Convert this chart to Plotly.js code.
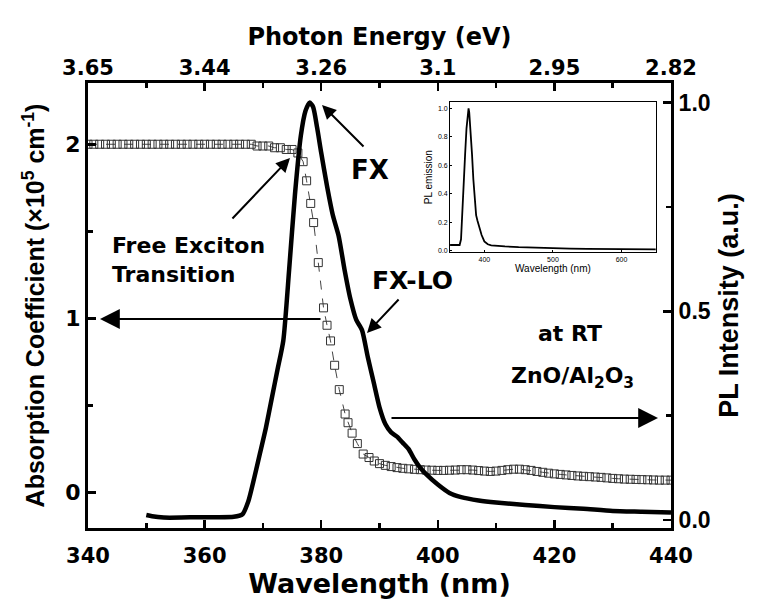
<!DOCTYPE html>
<html>
<head>
<meta charset="utf-8">
<script src="https://cdn.plot.ly/plotly-3.0.1.min.js"></script>
<style>html,body{margin:0;padding:0;background:#fff;}#chart{width:757px;height:604px;}</style>
</head>
<body>
<div id="chart"></div>
<script>
// PL intensity (thick black line, right axis)
const plWavelength = [350, 351, 353, 356, 359, 362, 365, 366.5, 367.5, 368.5, 369.5, 370.5, 371.5, 372.5, 373.5, 374.5, 375.5, 376.5, 377.3, 378, 378.6, 379.3, 380, 381, 382, 383, 384, 385, 386, 387, 388, 389, 390, 391, 392, 393, 394, 395, 396, 397, 398, 400, 402, 404, 407, 410, 415, 420, 425, 430, 435, 440];
const plIntensity = [0.012, 0.009, 0.006, 0.006, 0.007, 0.007, 0.008, 0.014, 0.045, 0.10, 0.16, 0.22, 0.29, 0.36, 0.43, 0.60, 0.78, 0.92, 0.98, 1.0, 0.99, 0.94, 0.88, 0.80, 0.73, 0.68, 0.60, 0.53, 0.48, 0.455, 0.39, 0.33, 0.27, 0.23, 0.21, 0.20, 0.185, 0.17, 0.145, 0.125, 0.11, 0.085, 0.065, 0.055, 0.047, 0.042, 0.036, 0.031, 0.027, 0.022, 0.020, 0.018];

// Absorption coefficient (open squares, left axis, x10^5 cm^-1)
const absWavelength = [340, 341, 342, 343, 344, 345, 346, 347, 348, 349, 350, 351, 352, 353, 354, 355, 356, 357, 358, 359, 360, 361, 362, 363, 364, 365, 366, 367, 368, 369, 370, 371, 372, 373, 374, 375, 376, 376.9, 377.5, 378.2, 378.7, 379.5, 380.4, 381, 381.6, 382.3, 383.1, 384.1, 384.6, 385.3, 386.2, 387.2, 388.2, 389.1, 390, 391, 392, 393, 394, 395, 396, 397, 398, 399, 400, 401, 402, 403, 404, 405, 406, 407, 408, 409, 410, 411, 412, 413, 414, 415, 416, 417, 418, 419, 420, 421, 422, 423, 424, 425, 426, 427, 428, 429, 430, 431, 432, 433, 434, 435, 436, 437, 438, 439, 440];
const absCoefficient = [2.00, 2.00, 2.00, 2.00, 2.00, 2.00, 2.00, 2.00, 2.00, 2.00, 2.00, 2.00, 2.00, 2.00, 2.00, 2.00, 2.00, 2.00, 2.00, 2.00, 2.00, 2.00, 2.00, 2.00, 2.00, 2.00, 2.00, 2.00, 2.00, 1.99, 1.99, 1.99, 1.98, 1.98, 1.97, 1.97, 1.95, 1.90, 1.79, 1.66, 1.55, 1.32, 1.06, 0.96, 0.87, 0.73, 0.59, 0.45, 0.40, 0.34, 0.28, 0.22, 0.20, 0.18, 0.165, 0.155, 0.148, 0.142, 0.138, 0.135, 0.132, 0.130, 0.128, 0.127, 0.126, 0.126, 0.127, 0.128, 0.130, 0.130, 0.128, 0.125, 0.122, 0.120, 0.122, 0.126, 0.130, 0.133, 0.133, 0.130, 0.126, 0.120, 0.115, 0.110, 0.106, 0.103, 0.100, 0.097, 0.094, 0.092, 0.090, 0.088, 0.086, 0.083, 0.080, 0.078, 0.076, 0.075, 0.074, 0.073, 0.072, 0.071, 0.070, 0.070, 0.070];

// Inset: PL emission over a wide range
const insetWavelength = [350, 355, 360, 364, 366, 368, 370, 372, 374, 376, 377, 378, 380, 382, 384, 386, 388, 390, 393, 396, 400, 405, 410, 420, 430, 450, 475, 500, 525, 550, 575, 600, 625, 650];
const insetEmission = [0.04, 0.04, 0.038, 0.04, 0.08, 0.25, 0.47, 0.68, 0.86, 0.97, 1.0, 0.97, 0.85, 0.68, 0.50, 0.34, 0.25, 0.21, 0.16, 0.11, 0.065, 0.045, 0.038, 0.033, 0.030, 0.025, 0.020, 0.016, 0.014, 0.012, 0.011, 0.010, 0.009, 0.009];

// Axis tick labels
const wlTicks = [340, 360, 380, 400, 420, 440];
const energyLabels = ["3.65", "3.44", "3.26", "3.1", "2.95", "2.82"];
const insetXTicks = [400, 500, 600];
const insetYTicks = [0, 0.2, 0.4, 0.6, 0.8, 1.0];

const wide = {family: "DejaVu Sans", weight: "bold", color: "#000"};
const arial = {family: "Liberation Sans, Arial", weight: "bold", color: "#000"};
function f(base, size) { return Object.assign({}, base, {size: size}); }

const traces = [
  {
    x: absWavelength, y: absCoefficient, xaxis: "x", yaxis: "y",
    type: "scatter", mode: "lines+markers",
    line: {color: "#444", width: 1, dash: "dash"},
    marker: {symbol: "square-open", size: 8, color: "#333", line: {width: 1}},
    name: "Absorption"
  },
  {
    x: plWavelength, y: plIntensity, xaxis: "x2", yaxis: "y2",
    type: "scatter", mode: "lines",
    line: {color: "#000", width: 4.5, shape: "spline", smoothing: 0.6},
    name: "PL"
  },
  {
    x: insetWavelength, y: insetEmission, xaxis: "x3", yaxis: "y3",
    type: "scatter", mode: "lines",
    line: {color: "#000", width: 1.8},
    name: "Inset"
  }
];

const axCommon = {showline: true, linecolor: "#000", linewidth: 3, ticks: "inside", tickcolor: "#000", tickwidth: 2.5, ticklen: 8, showgrid: false, zeroline: false, fixedrange: true};

const layout = {
  width: 757, height: 604,
  margin: {l: 88, r: 86, t: 83, b: 76, pad: 0},
  paper_bgcolor: "#fff", plot_bgcolor: "#fff",
  showlegend: false,
  xaxis: Object.assign({}, axCommon, {
    range: [340, 440], side: "bottom", anchor: "y",
    tickmode: "array", tickvals: wlTicks,
    minor: {dtick: 10, tick0: 340, ticks: "inside", ticklen: 5, tickwidth: 2.5, tickcolor: "#000"},
    tickfont: f(wide, 21), ticklabelstandoff: 7,
    title: {text: "Wavelength (nm)", font: f(wide, 27), standoff: 3}
  }),
  xaxis2: Object.assign({}, axCommon, {
    range: [340, 440], side: "top", overlaying: "x", anchor: "y2",
    tickmode: "array", tickvals: wlTicks, ticktext: energyLabels,
    minor: {dtick: 10, tick0: 340, ticks: "inside", ticklen: 5, tickwidth: 2.5, tickcolor: "#000"},
    tickfont: f(wide, 21), ticklabelstandoff: -3,
    title: {text: "Photon Energy (eV)", font: f(wide, 24), standoff: 4}
  }),
  yaxis: Object.assign({}, axCommon, {
    range: [-0.205, 2.352], side: "left", anchor: "x",
    tickmode: "array", tickvals: [0, 1, 2],
    minor: {dtick: 0.5, tick0: 0, ticks: "inside", ticklen: 5, tickwidth: 2.5, tickcolor: "#000"},
    tickfont: f(wide, 22),
    title: {text: "Absorption Coefficient (×10<sup>5</sup> cm<sup>-1</sup>)", font: f(arial, 25), standoff: 14}
  }),
  yaxis2: Object.assign({}, axCommon, {
    range: [-0.019, 1.047], side: "right", overlaying: "y", anchor: "x2",
    tickmode: "array", tickvals: [0, 0.5, 1.0], ticktext: ["0.0", "0.5", "1.0"],
    minor: {dtick: 0.25, tick0: 0, ticks: "inside", ticklen: 5, tickwidth: 2.5, tickcolor: "#000"},
    tickfont: f(arial, 23),
    title: {text: "PL Intensity (a.u.)", font: f(arial, 27), standoff: 10}
  }),
  xaxis3: {
    domain: [0.621, 0.974], anchor: "y3", range: [350, 650],
    showline: true, mirror: true, linecolor: "#000", linewidth: 1,
    ticks: "inside", ticklen: 2, tickwidth: 1, tickcolor: "#000",
    tickmode: "array", tickvals: insetXTicks,
    tickfont: {family: "Liberation Sans, Arial", size: 7, color: "#000"},
    showgrid: false, zeroline: false, fixedrange: true,
    title: {text: "Wavelength (nm)", font: {family: "Liberation Sans, Arial", size: 10, color: "#000"}, standoff: 3}
  },
  yaxis3: {
    domain: [0.620, 0.957], anchor: "x3", range: [-0.01, 1.044],
    showline: true, mirror: true, linecolor: "#000", linewidth: 1,
    ticks: "inside", ticklen: 2, tickwidth: 1, tickcolor: "#000",
    tickmode: "array", tickvals: insetYTicks, tickformat: ".1f",
    tickfont: {family: "Liberation Sans, Arial", size: 7, color: "#000"},
    showgrid: false, zeroline: false, fixedrange: true,
    title: {text: "PL emission", font: {family: "Liberation Sans, Arial", size: 10, color: "#000"}, standoff: 3}
  },
  annotations: [
    // arrows
    {xref: "paper", yref: "paper", x: 0.4014, y: 0.9506, ax: 43, ay: 43, showarrow: true, arrowhead: 2, arrowsize: 1.4, arrowwidth: 2, arrowcolor: "#000", text: ""},
    {xref: "paper", yref: "paper", x: 0.3465, y: 0.8315, ax: -59, ay: 62, showarrow: true, arrowhead: 2, arrowsize: 1.4, arrowwidth: 2, arrowcolor: "#000", text: ""},
    {xref: "paper", yref: "paper", x: 0.4786, y: 0.4382, ax: 33, ay: -35, showarrow: true, arrowhead: 2, arrowsize: 1.4, arrowwidth: 2, arrowcolor: "#000", text: ""},
    {xref: "paper", yref: "paper", x: 0.0206, y: 0.4697, ax: 222, ay: 0, showarrow: true, arrowhead: 2, arrowsize: 1.8, arrowwidth: 2.2, arrowcolor: "#000", text: ""},
    {xref: "paper", yref: "paper", x: 0.9777, y: 0.2472, ax: -268, ay: 0, showarrow: true, arrowhead: 2, arrowsize: 1.8, arrowwidth: 2.2, arrowcolor: "#000", text: ""},
    // labels
    {xref: "paper", yref: "paper", x: 0.4837, y: 0.8045, xanchor: "center", yanchor: "middle", text: "FX", showarrow: false, font: f(wide, 26)},
    {xref: "paper", yref: "paper", x: 0.0377, y: 0.6022, xanchor: "left", yanchor: "middle", align: "left", text: "Free Exciton<br>Transition", showarrow: false, font: f(wide, 22)},
    {xref: "paper", yref: "paper", x: 0.5574, y: 0.5573, xanchor: "center", yanchor: "middle", text: "FX-LO", showarrow: false, font: f(wide, 25)},
    {xref: "paper", yref: "paper", x: 0.8267, y: 0.4382, xanchor: "center", yanchor: "middle", text: "at RT", showarrow: false, font: f(wide, 22)},
    {xref: "paper", yref: "paper", x: 0.8302, y: 0.3393, xanchor: "center", yanchor: "middle", text: "ZnO/Al<sub>2</sub>O<sub>3</sub>", showarrow: false, font: f(wide, 22)}
  ]
};

Plotly.newPlot("chart", traces, layout, {staticPlot: true, displayModeBar: false});
</script>
</body>
</html>
